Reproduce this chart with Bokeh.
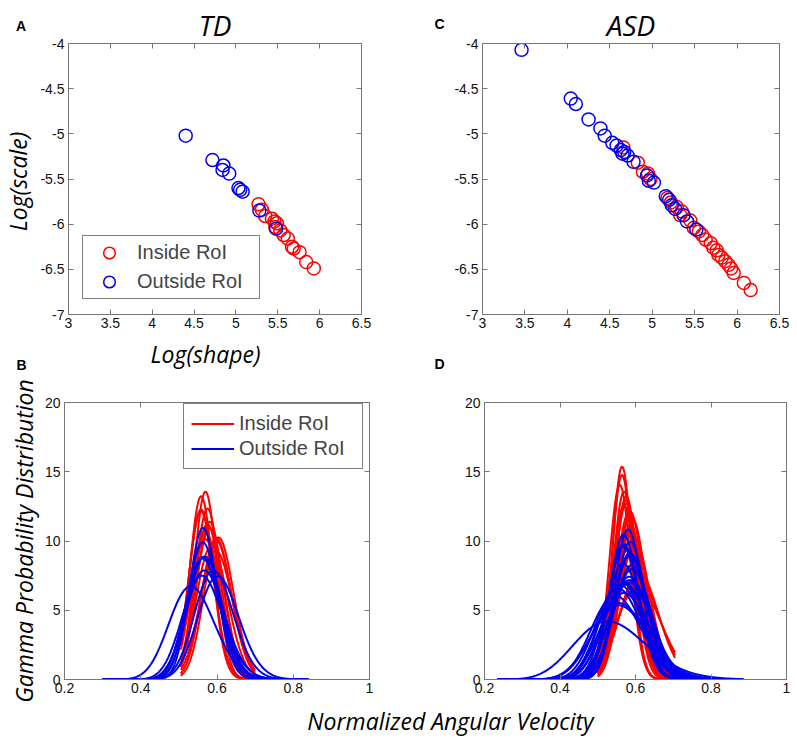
import math
import numpy as np
from bokeh.plotting import figure
from bokeh.models import Range1d, FixedTicker, LinearAxis, Label, Legend, LegendItem, Spacer
from bokeh.layouts import row, column
from bokeh.embed import file_html
from bokeh.resources import INLINE

# ---------------- data ----------------
# TD group: log(shape) / log(scale) of fitted gamma distributions
td_in_log_shape = [5.27, 5.31, 5.35, 5.43, 5.46, 5.49, 5.47, 5.53, 5.57, 5.62, 5.67, 5.69, 5.76, 5.84, 5.93]
td_in_log_scale = [-5.78, -5.84, -5.91, -5.94, -5.97, -5.99, -6.03, -6.07, -6.12, -6.16, -6.25, -6.27, -6.31, -6.42, -6.49]
td_out_log_shape = [4.40, 4.72, 4.85, 4.84, 4.92, 5.03, 5.05, 5.08, 5.28, 5.48]
td_out_log_scale = [-5.02, -5.29, -5.35, -5.40, -5.44, -5.60, -5.62, -5.64, -5.85, -6.05]

# ASD group
asd_in_log_shape = [4.66, 4.83, 4.89, 4.95, 4.98, 5.18, 5.22, 5.29, 5.35, 5.33, 5.45, 5.49, 5.55,
                    5.59, 5.63, 5.69, 5.72, 5.76, 5.78, 5.82, 5.86, 5.90, 5.93, 5.96, 6.08, 6.16]
asd_in_log_scale = [-5.15, -5.32, -5.42, -5.44, -5.50, -5.71, -5.76, -5.81, -5.86, -5.90, -5.96, -6.04, -6.08,
                    -6.12, -6.17, -6.21, -6.26, -6.29, -6.34, -6.37, -6.41, -6.45, -6.49, -6.54, -6.65, -6.73]
asd_out_log_shape = [3.46, 4.04, 4.10, 4.25, 4.39, 4.44, 4.53, 4.58, 4.63, 4.65, 4.67, 4.71, 4.78,
                     4.94, 4.96, 5.02, 5.16, 5.20, 5.23, 5.27, 5.37, 5.41, 5.52]
asd_out_log_scale = [-4.07, -4.61, -4.67, -4.84, -4.94, -5.02, -5.10, -5.13, -5.18, -5.22, -5.20, -5.24, -5.31,
                     -5.46, -5.52, -5.54, -5.69, -5.73, -5.79, -5.83, -5.90, -5.97, -6.06]

# velocity domain over which each group's distributions are drawn
td_in_domain = [0.505, 0.70]
td_out_domain = [0.30, 0.84]
asd_in_domain = [0.50, 0.705]
asd_out_domain = [0.235, 0.885]

labels_legend = ["Inside RoI", "Outside RoI"]

scatter_x_ticks = [3, 3.5, 4, 4.5, 5, 5.5, 6, 6.5]
scatter_x_labels = ["3", "3.5", "4", "4.5", "5", "5.5", "6", "6.5"]
scatter_y_ticks = [-7, -6.5, -6, -5.5, -5, -4.5, -4]
scatter_y_labels = ["-7", "-6.5", "-6", "-5.5", "-5", "-4.5", "-4"]
pdf_x_ticks = [0.2, 0.4, 0.6, 0.8, 1.0]
pdf_x_labels = ["0.2", "0.4", "0.6", "0.8", "1"]
pdf_y_ticks = [0, 5, 10, 15, 20]
pdf_y_labels = ["0", "5", "10", "15", "20"]

RED = "#ff0000"
BLUE = "#0000ee"
FRAME = "#777777"
TICKFONT = "Liberation Sans"
LABELFONT = "Open Sans"


def gamma_curves(log_shape, log_scale, domain, n=300):
    xs, ys = [], []
    x = np.linspace(domain[0], domain[1], n)
    for ls, lc in zip(log_shape, log_scale):
        k = math.exp(ls)
        th = math.exp(lc)
        logpdf = (k - 1) * np.log(x) - x / th - math.lgamma(k) - k * math.log(th)
        xs.append(x.tolist())
        ys.append(np.exp(logpdf).tolist())
    return xs, ys


def style_axes(p, xt, xl, yt, yl, ylabel=None, ylabel_standoff=2):
    for ax in p.xaxis + p.yaxis:
        ax.axis_line_color = FRAME
        ax.major_tick_line_color = FRAME
        ax.major_tick_in = 5
        ax.major_tick_out = 0
        ax.minor_tick_line_color = None
        ax.major_label_text_font = TICKFONT
        ax.major_label_text_font_size = "14px"
        ax.major_label_text_color = "#111111"
    p.xaxis.major_label_standoff = 3
    p.yaxis.major_label_standoff = 4
    p.xaxis.ticker = FixedTicker(ticks=xt)
    p.xaxis.major_label_overrides = dict(zip(xt, xl))
    p.yaxis.ticker = FixedTicker(ticks=yt)
    p.yaxis.major_label_overrides = dict(zip(yt, yl))
    if ylabel:
        p.yaxis.axis_label = ylabel
        p.yaxis.axis_label_text_font = LABELFONT
        p.yaxis.axis_label_text_font_style = "italic"
        p.yaxis.axis_label_text_font_size = "23px"
        p.yaxis.axis_label_text_color = "black"
        p.yaxis.axis_label_standoff = ylabel_standoff
    # mirrored axes (box on): ticks only, no labels
    for side, ticks in (("right", yt), ("above", xt)):
        ax = LinearAxis(ticker=FixedTicker(ticks=ticks), axis_line_color=FRAME,
                        major_tick_line_color=FRAME, major_tick_in=5, major_tick_out=0,
                        minor_tick_line_color=None, major_label_text_color=None,
                        major_label_text_font_size="1px",
                        major_label_overrides={t: "" for t in ticks},
                        major_label_standoff=0)
        p.add_layout(ax, side)
    p.grid.visible = False
    p.outline_line_color = FRAME


def make_fig(w, h, left, right, top, bottom, xr, yr, title=None):
    p = figure(width=w, height=h, output_backend="svg", toolbar_location=None,
               x_range=Range1d(*xr), y_range=Range1d(*yr), title=title,
               min_border_left=left, min_border_right=right,
               min_border_top=top, min_border_bottom=bottom)
    if title:
        p.title.align = "center"
        p.title.text_font = LABELFONT
        p.title.text_font_style = "italic"
        p.title.text_font_size = "28px"
        p.title.text_color = "black"
        p.title.standoff = 0
        p.title.offset = 0
    p.background_fill_color = "white"
    p.border_fill_color = "white"
    return p


def strip(w, h):
    s = figure(width=w, height=h, output_backend="svg", toolbar_location=None,
               x_range=Range1d(0, 1), y_range=Range1d(0, 1), min_border=0,
               x_axis_type=None, y_axis_type=None)
    s.grid.visible = False
    s.outline_line_color = None
    return s


def text(p, x, y, s, size, font=LABELFONT, style="normal", align="center", angle=0.0):
    p.add_layout(Label(x=x, y=y, x_units="canvas", y_units="canvas", text=s,
                       text_font=font, text_font_size=size, text_font_style=style,
                       text_color="black", text_align=align, text_baseline="middle",
                       angle=angle))


def scatter_panel(w, h, left, right, top, bottom, in_x, in_y, out_x, out_y, title, legend=False):
    p = make_fig(w, h, left, right, top, bottom, (3, 6.5), (-7, -4), title=title)
    style_axes(p, scatter_x_ticks, scatter_x_labels, scatter_y_ticks, scatter_y_labels)
    r_in = p.scatter(in_x, in_y, marker="circle", size=13, fill_color=None,
                     line_color=RED, line_width=1.5)
    r_out = p.scatter(out_x, out_y, marker="circle", size=13, fill_color=None,
                      line_color=BLUE, line_width=1.5)
    if legend:
        lg = Legend(items=[LegendItem(label=labels_legend[0], renderers=[r_in]),
                           LegendItem(label=labels_legend[1], renderers=[r_out])],
                    location=(14, 15), padding=2, spacing=0, margin=0,
                    glyph_width=48, glyph_height=29, label_standoff=4, label_width=120,
                    label_text_font=TICKFONT, label_text_font_size="20px",
                    border_line_color="black", border_line_width=1,
                    background_fill_color="white", background_fill_alpha=1.0)
        p.add_layout(lg, "center")
    return p


def pdf_panel(w, h, left, right, top, bottom, in_x, in_y, out_x, out_y, dom_in, dom_out,
              ylabel=None, legend=False):
    p = make_fig(w, h, left, right, top, bottom, (0.2, 1.0), (0, 20))
    style_axes(p, pdf_x_ticks, pdf_x_labels, pdf_y_ticks, pdf_y_labels, ylabel, 2)
    xs_i, ys_i = gamma_curves(in_x, in_y, dom_in)
    xs_o, ys_o = gamma_curves(out_x, out_y, dom_out)
    r_in = p.multi_line(xs_i, ys_i, line_color=RED, line_width=2)
    r_out = p.multi_line(xs_o, ys_o, line_color=BLUE, line_width=2)
    if legend:
        lg = Legend(items=[LegendItem(label=labels_legend[0], renderers=[r_in]),
                           LegendItem(label=labels_legend[1], renderers=[r_out])],
                    location=(119, 210), padding=7, spacing=0, margin=0,
                    glyph_width=43, glyph_height=25, label_standoff=5, label_width=116,
                    label_text_font=TICKFONT, label_text_font_size="20px",
                    border_line_color="black", border_line_width=1,
                    background_fill_color="white", background_fill_alpha=1.0)
        p.add_layout(lg, "center")
    return p


# ---------------- top row (page y 0..336) ----------------
# left column (x 0..34): panel letter A above, y label below
strip_a_top = strip(34, 43)
text(strip_a_top, 20.5, 25, "A", "14px", font=TICKFONT, style="bold")
strip_a_bot = strip(34, 293)
text(strip_a_bot, 17, 138, "Log(scale)", "23px", style="italic", angle=math.pi / 2)
col_a = column(strip_a_top, strip_a_bot)

# TL figure (x 34..400), frame x 68..361, y 43..314
tl = scatter_panel(366, 336, 34, 39, 43, 22, td_in_log_shape, td_in_log_scale,
                   td_out_log_shape, td_out_log_scale, "TD", legend=True)

# column (x 400..450): panel letter C
strip_c_top = strip(50, 43)
text(strip_c_top, 39, 23, "C", "14px", font=TICKFONT, style="bold")
col_c = column(strip_c_top, Spacer(width=50, height=293))

# TR figure (x 450..797), frame x 482..779, y 43..317
tr = scatter_panel(347, 336, 32, 18, 43, 19, asd_in_log_shape, asd_in_log_scale,
                   asd_out_log_shape, asd_out_log_scale, "ASD")

# ---------------- middle strip (page y 336..374) ----------------
mid_strip = strip(797, 38)
text(mid_strip, 205, 17, "Log(shape)", "23px", style="italic")
text(mid_strip, 21, 28, "B", "14px", font=TICKFONT, style="bold")
text(mid_strip, 439, 27, "D", "14px", font=TICKFONT, style="bold")

# ---------------- bottom row (page y 374..702) ----------------
bl = pdf_panel(400, 328, 64, 31, 24, 23, td_in_log_shape, td_in_log_scale,
               td_out_log_shape, td_out_log_scale, td_in_domain, td_out_domain,
               ylabel="Gamma Probability Distribution", legend=True)
br = pdf_panel(397, 328, 84, 11, 28, 23, asd_in_log_shape, asd_in_log_scale,
               asd_out_log_shape, asd_out_log_scale, asd_in_domain, asd_out_domain)

# ---------------- bottom strip (page y 702..741) ----------------
bottom_strip = strip(797, 39)
text(bottom_strip, 450, 18, "Normalized Angular Velocity", "23px", style="italic")

layout = column(row(col_a, tl, col_c, tr), mid_strip, row(bl, br), bottom_strip)
open("out.html", "w").write(file_html(layout, INLINE))
